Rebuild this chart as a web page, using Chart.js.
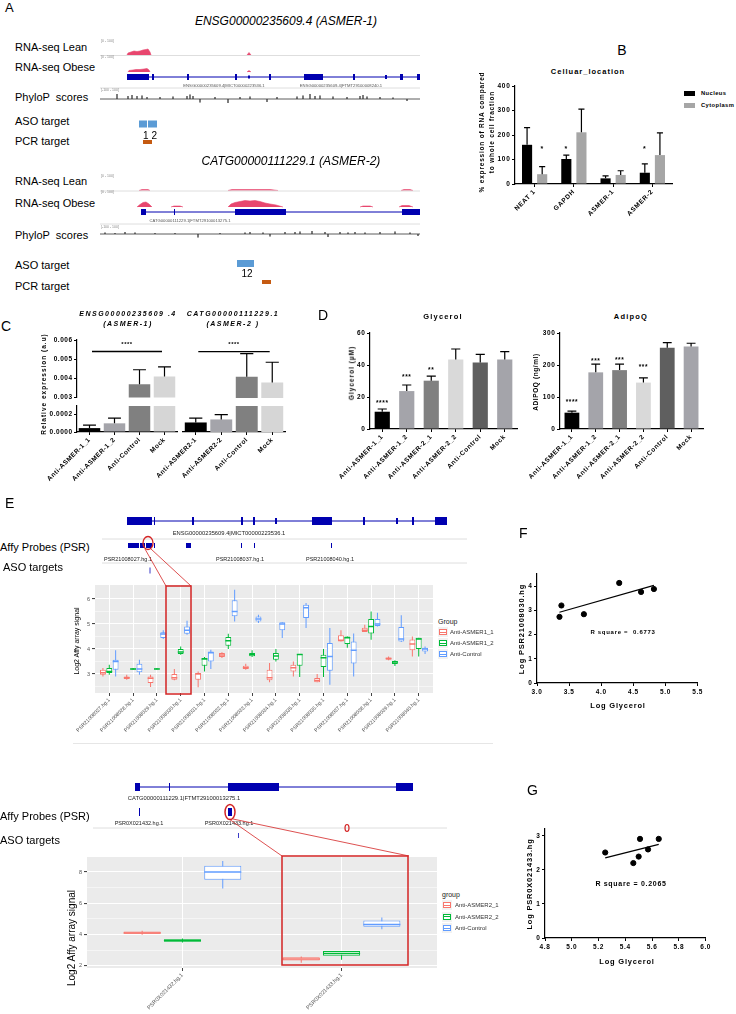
<!DOCTYPE html>
<html><head><meta charset="utf-8"><title>ASMER figure</title>
<script src="https://cdn.jsdelivr.net/npm/chart.js@4.4.1/dist/chart.umd.min.js"></script>
<style>
html,body{margin:0;padding:0;background:#fff;}
#root{position:relative;width:736px;height:1014px;overflow:hidden;font-family:"Liberation Sans",Arial,sans-serif;color:#000;}
.t{position:absolute;white-space:pre;line-height:1;}
canvas{position:absolute;}
svg{position:absolute;left:0;top:0;}
</style></head>
<body><div id="root"></div>
<script>
/* ================= DATA ================= */
// Panel B
const bCategories = ['NEAT 1','GAPDH','ASMER-1','ASMER-2'];
const bNucleus = [160,102,23,46];
const bNucleusErr = [70,16,10,36];
const bCytoplasm = [40,211,37,118];
const bCytoplasmErr = [31,95,17,91];
const bNucleusSig = ['','*','','*'];
const bCytoplasmSig = ['*','','',''];
const bSigLevel = 150;
const bTicks = [0,100,200,300,400];

// Panel C
const cLabels1 = ['Anti-ASMER-1_1','Anti-ASMER-1_2','Anti-Control','Mock'];
const cValues1 = [0.000045,0.0001,0.0037,0.0041];
const cErr1 = [0.000035,0.00006,0.00075,0.0005];
const cLabels2 = ['Anti-ASMER2-1','Anti-ASMER2-2','Anti-Control','Mock'];
const cValues2 = [0.00011,0.000145,0.0041,0.0038];
const cErr2 = [0.00005,0.000055,0.0012,0.00105];
const cUpperTicks = [0.003,0.004,0.005,0.006];
const cLowerTicks = [0,0.0001,0.0002,0.0003];
const cSigLevel = 0.0054;
const cSigText = 0.0059;

// Panel D
const dLabels = ['Anti-ASMER-1_1','Anti-ASMER-1_2','Anti-ASMER-2_1','Anti-ASMER-2_2','Anti-Control','Mock'];
const dGlycerol = [10.8,23.7,30.2,43.5,41.5,43.5];
const dGlycerolErr = [1.7,3.8,2.8,6.5,5.2,4.8];
const dGlycerolSig = ['****','***','**','','',''];
const dGlycerolSigAt = [17.5,33.7,38,null,null,null];
const dGlycerolTicks = [0,20,40,60];
const dAdipoq = [51,177,184,145,254,258];
const dAdipoqErr = [5,26,19,15,16,10];
const dAdipoqSig = ['****','***','***','***','',''];
const dAdipoqSigAt = [90,219,221,199,null,null];
const dAdipoqTicks = [0,100,200,300];

// Panel E (upper) boxplots: [min, q1, median, q3, max]
const eProbes = ['PSR21008027.hg.1','PSR21008028.hg.1','PSR21008029.hg.1','PSR21008030.hg.1','PSR21008031.hg.1','PSR21008032.hg.1','PSR21008033.hg.1','PSR21008034.hg.1','PSR21008035.hg.1','PSR21008036.hg.1','PSR21008037.hg.1','PSR21008038.hg.1','PSR21008039.hg.1','PSR21008040.hg.1'];
const eGroups = ['Anti-ASMER1_1','Anti-ASMER1_2','Anti-Control'];
const eAsmer1_1 = [[2.9,2.97,3.05,3.17,3.24],[2.77,2.8,2.85,2.9,2.97],[2.48,2.64,2.83,2.9,2.97],[2.75,2.77,2.85,3.0,3.2],[2.47,2.77,3.0,3.04,3.1],[3.64,3.68,3.76,3.84,3.87],[3.17,3.2,3.25,3.33,3.41],[2.67,2.75,2.85,3.17,3.44],[2.9,3.1,3.25,3.37,3.5],[2.67,2.67,2.74,2.84,3.0],[4.3,4.3,4.35,4.55,4.75],[4.68,4.68,4.75,4.85,4.97],[3.55,3.57,3.62,3.66,3.7],[3.7,3.95,4.2,4.38,4.5]];
const eAsmer1_2 = [[2.97,3.04,3.1,3.24,3.37],[3.17,3.18,3.2,3.22,3.24],[3.18,3.19,3.2,3.22,3.24],[3.77,3.8,3.88,4.0,4.1],[3.1,3.33,3.6,3.64,3.68],[4.0,4.13,4.33,4.48,4.61],[3.68,3.71,3.78,3.84,3.95],[3.5,3.57,3.72,3.84,4.0],[2.88,3.33,3.78,3.8,3.8],[2.88,3.28,3.65,3.77,4.0],[4.05,4.2,4.45,4.5,4.5],[4.37,4.62,4.9,5.2,5.5],[3.32,3.4,3.48,3.52,3.55],[3.7,4.0,4.4,4.45,4.45]];
const eControl = [[2.9,3.17,3.5,3.57,3.95],[2.97,3.07,3.2,3.41,3.57],[4.4,4.44,4.6,4.67,4.75],[4.57,4.61,4.75,4.9,5.13],[3.2,3.5,3.85,3.9,3.97],[5.1,5.31,5.5,5.95,6.37],[5.04,5.1,5.2,5.3,5.37],[4.44,4.75,5.0,5.07,5.07],[4.84,5.24,5.65,5.77,5.84],[2.57,3.13,3.7,4.24,4.84],[2.9,3.42,3.95,4.3,4.62],[4.9,4.92,5.0,5.2,5.45],[4.28,4.3,4.4,4.88,5.35],[3.8,3.9,4.0,4.05,4.1]];
const eYTicks = [2.5,3,3.5,4,4.5,5,5.5,6];

// Panel E (lower)
const e2Probes = ['PSR0X021432.hg.1','PSR0X021433.hg.1'];
const e2Groups = ['Anti-ASMER2_1','Anti-ASMER2_2','Anti-Control'];
const e2Asmer2_1 = [[4.0,4.05,4.1,4.2,4.25],[2.2,2.35,2.45,2.55,2.6]];
const e2Asmer2_2 = [[3.5,3.55,3.62,3.7,3.75],[2.4,2.65,2.8,2.95,2.95]];
const e2Control = [[6.95,7.5,8.0,8.4,8.7],[4.35,4.5,4.65,4.9,5.1]];
const e2YTicks = [2,3,4,5,6,7,8];

// Panel F / G scatter
const fPoints = [[3.35,2.73],[3.38,3.2],[3.73,2.84],[4.28,4.13],[4.62,3.76],[4.82,3.88]];
const fFit = [[3.35,2.92],[4.82,4.03]];
const fXTicks = [3.0,3.5,4.0,4.5,5.0,5.5];
const fYTicks = [0,1,2,3,4];
const gPoints = [[5.25,2.51],[5.46,2.2],[5.5,2.39],[5.51,2.91],[5.57,2.6],[5.65,2.91]];
const gFit = [[5.25,2.35],[5.65,2.75]];
const gXTicks = [4.8,5.0,5.2,5.4,5.6,5.8,6.0];
const gYTicks = [0,1,2,3];

// Genome tracks (positions in window units, heights in signal units)
const a1LeanPeaks = [[[27,0],[28,2],[31,3],[34,4],[37,3.5],[40,4],[43,5],[46,5.5],[48,6],[50,3],[51,0]],[[147,0],[149,2.5],[151,0]]];
const a1ObesePeaks = [[[28,0],[29,1.5],[33,2],[36,2.5],[40,2.5],[44,3],[47,3.5],[49,2],[50,0]],[[147,0],[149,1.5],[151,0]]];
const a1Exons = [[27,49,6],[52,54,6],[87,89,6],[135,137,6],[148,150,3],[169,171,6],[204,223,6],[253,255,6],[285,287,4],[300,303,6],[317,320,6]];
const a1Span = [27,320];
const a1Phylo = [[17,5],[28,3],[32,4],[37,3],[42,3.5],[47,2],[60,2],[73,2.5],[87,3],[90,4.5],[93,3],[100,-3.5],[115,2],[128,-4],[140,2],[150,2.5],[167,-3],[177,2],[197,2.5],[203,3.5],[210,5],[215,3],[220,3.5],[233,2.5],[247,2],[260,3],[263,4],[267,2.5],[280,2],[293,1.5],[307,-2]];
const a1Aso = [[39,47],[48,57]];
const a1Pcr = [[43,52]];

const a2LeanPeaks = [[[39,0],[42,1],[48,1],[50,0]],[[128,0],[132,1],[170,1],[178,0]],[[301,0],[304,1],[310,1],[313,0]]];
const a2ObesePeaks = [[[37,0],[40,2.5],[43,4.5],[46,5],[49,3],[52,0]],[[71,0],[74,1],[80,1],[83,0]],[[128,0],[131,3],[135,4.5],[140,5.5],[145,6.5],[150,6],[155,6.5],[160,5.5],[165,4],[170,3],[176,2],[183,0]],[[260,0],[263,1],[270,1],[273,0]],[[299,0],[302,1.5],[309,1.5],[313,0]]];
const a2Exons = [[41,46,6],[74,75,6],[135,186,6],[302,320,6]];
const a2Span = [41,320];
const a2Phylo = [[5,1.5],[15,1],[25,2],[35,1.5],[55,1],[75,1],[98,-3.5],[120,1],[145,1.5],[150,2],[163,1.5],[170,-2.5],[185,2],[195,2],[200,2.5],[212,3],[225,2],[228,-3],[240,2],[248,1.5],[255,2],[265,1.5],[280,2],[295,2.5],[310,1.5],[318,-2]];
const a2Aso = [[137,154]];
const a2Pcr = [[162,171]];

const e1Exons = [[27,52,8],[54,55,8],[92,94,8],[141,143,8],[153,155,8],[175,177,6],[212,232,8],[263,265,8],[296,298,6],[312,314,8],[335,347,8]];
const e1Span = [27,347];
const e1Probes = [[28,39],[40,45],[46,52],[54,55],[86,91],[141,142],[154,155],[231,232]];
const e1Aso = [[47,48],[49.5,50.5]];

const e2Exons = [[42,47,8],[76,77,8],[135,186,8],[303,320,8]];
const e2Span = [42,320];
const e2ProbeList = [[46,47],[135,139]];
const e2Aso = [[145,146]];

/* ================= STYLE / HELPERS ================= */
const root = document.getElementById('root');
const FONT = '"Liberation Sans", Arial, sans-serif';
Chart.defaults.font.family = FONT;
Chart.defaults.animation = false;
Chart.defaults.responsive = false;
Chart.defaults.maintainAspectRatio = false;
Chart.defaults.devicePixelRatio = 1;
Chart.defaults.plugins.legend.display = false;
Chart.defaults.plugins.tooltip.enabled = false;
Chart.defaults.events = [];
Chart.defaults.color = '#000';

const spacingPlugin = { id:'spacing',
  beforeUpdate(c,a,o){ c.ctx.letterSpacing = ((o&&o.px)||0)+'px'; },
  beforeDraw(c,a,o){ c.ctx.letterSpacing = ((o&&o.px)||0)+'px'; } };

const errPlugin = { id:'errbars', afterDatasetsDraw(chart,a,o){
  if(!o || !o.err) return;
  const {ctx, chartArea:ca, scales:{y}} = chart;
  ctx.save();
  ctx.beginPath(); ctx.rect(ca.left-2, ca.top-1, ca.right-ca.left+4, ca.bottom-ca.top+1); ctx.clip();
  ctx.strokeStyle = '#000'; ctx.lineWidth = o.lw || 1.2;
  chart.data.datasets.forEach((ds,di)=>{
    const errs = o.err[di]; if(!errs) return;
    chart.getDatasetMeta(di).data.forEach((el,i)=>{
      const v = ds.data[i], e = errs[i];
      const y0 = y.getPixelForValue(v), y1 = y.getPixelForValue(v+e);
      const cw = el.width*(o.cap||0.3);
      ctx.beginPath(); ctx.moveTo(el.x,y0); ctx.lineTo(el.x,y1);
      ctx.moveTo(el.x-cw,y1); ctx.lineTo(el.x+cw,y1); ctx.stroke();
    });
  });
  ctx.restore();
  if(o.sig){
    ctx.save(); ctx.fillStyle='#000'; const fs = o.sigSize||7;
    ctx.font = 'bold '+fs+'px '+FONT; ctx.textAlign='center'; ctx.textBaseline='alphabetic';
    chart.data.datasets.forEach((ds,di)=>{
      const s = o.sig[di]; if(!s) return;
      chart.getDatasetMeta(di).data.forEach((el,i)=>{
        if(!s[i]) return;
        const yy = y.getPixelForValue(o.sigAt[di][i]);
        ctx.fillText(s[i], el.x, yy + fs*0.6);
      });
    });
    ctx.restore();
  }
}};

const sigLinePlugin = { id:'sigline', afterDatasetsDraw(c,a,o){
  if(!o || o.value==null) return;
  const {ctx, scales:{x,y}} = c;
  const yy = y.getPixelForValue(o.value), x0 = x.getPixelForValue(o.from), x1 = x.getPixelForValue(o.to);
  ctx.save(); ctx.strokeStyle='#000'; ctx.lineWidth=1.4;
  ctx.beginPath(); ctx.moveTo(x0,yy); ctx.lineTo(x1,yy); ctx.stroke();
  ctx.fillStyle='#000'; ctx.font='bold 6px '+FONT; ctx.textAlign='center'; ctx.textBaseline='alphabetic';
  ctx.fillText(o.label,(x0+x1)/2, y.getPixelForValue(o.labelValue)+4);
  ctx.restore();
}};

const bgPlugin = { id:'ggbg', beforeDraw(c,a,o){
  if(!o || !o.color) return;
  const {ctx, chartArea:ca} = c;
  ctx.save(); ctx.fillStyle=o.color; ctx.fillRect(ca.left,ca.top,ca.right-ca.left,ca.bottom-ca.top); ctx.restore();
}};

const medPlugin = { id:'medians', afterDatasetsDraw(c,a,o){
  if(!o || !o.sets) return;
  const {ctx, scales:{y}} = c;
  ctx.save(); ctx.lineWidth = o.lw || 1.5;
  o.sets.forEach(s=>{
    ctx.strokeStyle = s.color;
    c.getDatasetMeta(s.ds).data.forEach((el,i)=>{
      const yy = y.getPixelForValue(s.values[i]);
      ctx.beginPath(); ctx.moveTo(el.x-el.width/2, yy); ctx.lineTo(el.x+el.width/2, yy); ctx.stroke();
    });
  });
  ctx.restore();
}};
Chart.register(spacingPlugin, errPlugin, sigLinePlugin, bgPlugin, medPlugin);

function mkCanvas(l,t,w,h){
  const c=document.createElement('canvas'); c.width=w; c.height=h;
  c.style.left=l+'px'; c.style.top=t+'px'; c.style.width=w+'px'; c.style.height=h+'px';
  root.appendChild(c); return c;
}
function txt(s,x,y,o){
  o=o||{}; const d=document.createElement('div'); d.className='t'; d.textContent=s;
  d.style.left=x+'px'; d.style.top=y+'px'; d.style.fontSize=(o.size||10)+'px';
  if(o.bold) d.style.fontWeight='bold';
  if(o.italic) d.style.fontStyle='italic';
  if(o.ls) d.style.letterSpacing=o.ls+'px';
  if(o.color) d.style.color=o.color;
  const a=o.anchor||'l';
  let tr = a==='c'?'translate(-50%,-50%)':(a==='r'?'translate(-100%,-50%)':'translate(0,-50%)');
  if(o.rot) tr='translate(-50%,-50%) rotate(-90deg)';
  d.style.transform=tr; root.appendChild(d); return d;
}
function box(l,t,w,h,css){ const d=document.createElement('div'); d.style.position='absolute'; d.style.left=l+'px'; d.style.top=t+'px'; d.style.width=w+'px'; d.style.height=h+'px'; d.style.boxSizing='border-box'; Object.assign(d.style,css||{}); root.appendChild(d); return d; }

// Prism-style axes
function prismY(min,max,ticks,width,fmt,show){
  if(show===undefined) show=true;
  return { type:'linear', min, max,
    afterBuildTicks: s=>{ s.ticks = ticks.map(v=>({value:v})); },
    afterFit: s=>{ s.width = width; },
    border:{display:show,color:'#000',width:1.2},
    grid:{display:show, drawOnChartArea:false, drawTicks:true, tickLength:3, color:'#000', lineWidth:1},
    ticks:{display:show, color:'#000', font:{size:6.5, weight:'bold'}, padding:1.5, callback:v=>fmt(v)} };
}
function prismX(height){
  return { type:'category', offset:true, afterFit: s=>{ s.height = height; },
    border:{display:true,color:'#000',width:1.2},
    grid:{display:true, offset:false, drawOnChartArea:false, drawTicks:true, tickLength:3, color:'#000'},
    ticks:{color:'#000', autoSkip:false, maxRotation:45, minRotation:45, font:{size:6.5, weight:'bold'}, padding:1} };
}

/* ================= PANEL B ================= */
new Chart(mkCanvas(470,78,210,142), { type:'bar',
  data:{ labels:bCategories, datasets:[
    {label:'Nucleus', data:bNucleus, backgroundColor:'#000', barPercentage:0.67, categoryPercentage:0.77},
    {label:'Cytoplasm', data:bCytoplasm, backgroundColor:'#a6a6a6', barPercentage:0.67, categoryPercentage:0.77} ]},
  options:{ layout:{padding:{top:8,right:8,left:0,bottom:0}},
    scales:{ x:prismX(36), y:prismY(0,400,bTicks,45,v=>String(v)) },
    plugins:{ spacing:{px:0.7}, errbars:{err:[bNucleusErr,bCytoplasmErr], cap:0.3,
      sig:[bNucleusSig,bCytoplasmSig], sigAt:[bNucleusSig.map(()=>bSigLevel), bCytoplasmSig.map(()=>bSigLevel)], sigSize:7}}}
});

/* ================= PANEL C ================= */
const cColors = ['#000000','#a4a4aa','#808080','#d6d6d6'];
function cChart(l,t,w,h,labels,values,errs,yMin,yMax,ticks,fmt,yW,showY,lower,pad,sig){
  const opts = { layout:{padding:pad},
    scales:{
      x: lower ? prismX(50) : {type:'category', display:false, offset:true},
      y: prismY(yMin,yMax,ticks,yW,fmt,showY) },
    plugins:{ spacing:{px:0.5}, errbars:{err:[errs], cap:0.3} } };
  if(sig) opts.plugins.sigline = sig;
  new Chart(mkCanvas(l,t,w,h), { type:'bar',
    data:{ labels, datasets:[{ data:values, backgroundColor:cColors, barPercentage:0.86, categoryPercentage:1, clip:0 }]},
    options: opts });
}
cChart(20,330,160,73,cLabels1,cValues1,cErr1,0.003,0.006,cUpperTicks,v=>v.toFixed(3),57,true,false,{top:10,right:3,left:0,bottom:5},
  {value:cSigLevel, from:0.1, to:2.9, label:'****', labelValue:cSigText});
cChart(20,400,160,82,cLabels1,cValues1,cErr1,0,0.0003,cLowerTicks,v=>v.toFixed(4),57,true,true,{top:6,right:3,left:0,bottom:0});
cChart(140,330,148,73,cLabels2,cValues2,cErr2,0.003,0.006,cUpperTicks,v=>v.toFixed(3),43,false,false,{top:10,right:3,left:0,bottom:5},
  {value:cSigLevel, from:0.1, to:2.9, label:'****', labelValue:cSigText});
cChart(140,400,148,82,cLabels2,cValues2,cErr2,0,0.0003,cLowerTicks,v=>v.toFixed(4),43,false,true,{top:6,right:3,left:0,bottom:0});

/* ================= PANEL D ================= */
const dColors = ['#000000','#a4a4aa','#808080','#d9d9d9','#5f5f5f','#a4a4aa'];
function dChart(l,w,values,errs,sig,sigAt,max,ticks){
  new Chart(mkCanvas(l,323,w,161), { type:'bar',
    data:{ labels:dLabels, datasets:[{ data:values, backgroundColor:dColors, barPercentage:0.62, categoryPercentage:1 }]},
    options:{ layout:{padding:{top:10,right:3,left:0,bottom:0}},
      scales:{ x:prismX(55), y:prismY(0,max,ticks,40,v=>String(v)) },
      plugins:{ spacing:{px:0.6}, errbars:{err:[errs], cap:0.3, sig:[sig], sigAt:[sigAt], sigSize:6.5} } } });
}
dChart(330,190,dGlycerol,dGlycerolErr,dGlycerolSig,dGlycerolSigAt,60,dGlycerolTicks);
dChart(520,186,dAdipoq,dAdipoqErr,dAdipoqSig,dAdipoqSigAt,300,dAdipoqTicks);

/* ================= PANEL E boxplots ================= */
const ggColors = ['#F8766D','#00BA38','#619CFF'];
function boxChart(l,t,w,h,cats,groups,yMin,yMax,yTicks,isMajor,yW,xH,labelSize,catPct){
  const datasets = [];
  groups.forEach((g,gi)=>datasets.push({ type:'bar', stack:'s'+gi, order:0,
    data:g.map((b,i)=>({x:i+1, y:[b[1],b[3]]})), backgroundColor:'#ffffff', borderColor:ggColors[gi],
    borderWidth:1, borderSkipped:false, categoryPercentage:catPct, barPercentage:0.92, clip:0 }));
  groups.forEach((g,gi)=>datasets.push({ type:'bar', stack:'s'+gi, order:1,
    data:g.map((b,i)=>({x:i+1, y:[b[0],b[4]]})), backgroundColor:ggColors[gi], maxBarThickness:1,
    categoryPercentage:catPct, barPercentage:0.92, clip:0 }));
  new Chart(mkCanvas(l,t,w,h), { type:'bar', data:{datasets},
    options:{ layout:{padding:{top:7,right:3,left:0,bottom:0}},
      scales:{
        x:{ type:'linear', min:0.4, max:cats.length+0.6, offset:false,
          afterBuildTicks:s=>{ s.ticks = cats.map((c,i)=>({value:i+1})); },
          afterFit:s=>{ s.height = xH; },
          border:{display:false},
          grid:{display:true, offset:false, color:'#ffffff', lineWidth:1, drawTicks:true, tickLength:3, tickColor:'#444'},
          ticks:{ autoSkip:false, maxRotation:45, minRotation:45, color:'#555', font:{size:labelSize}, padding:1,
            callback:v=>cats[Math.round(v)-1] } },
        y:{ type:'linear', min:yMin, max:yMax, stacked:false,
          afterBuildTicks:s=>{ s.ticks = yTicks.map(v=>({value:v})); },
          afterFit:s=>{ s.width = yW; },
          border:{display:false},
          grid:{display:true, color:'#ffffff', lineWidth:ctx=>isMajor(ctx.tick.value)?1.1:0.5,
            drawTicks:true, tickLength:3, tickColor:ctx=>isMajor(ctx.tick.value)?'#444':'rgba(0,0,0,0)'},
          ticks:{ color:'#555', font:{size:5.5}, padding:2, callback:v=>isMajor(v)?String(v):'' } } },
      plugins:{ ggbg:{color:'#EBEBEB'},
        medians:{ lw:1.5, sets:groups.map((g,gi)=>({ds:gi, color:ggColors[gi], values:g.map(b=>b[2])})) } } } });
}
boxChart(40,578,396,160,eProbes,[eAsmer1_1,eAsmer1_2,eControl],2.24,6.56,eYTicks,v=>Number.isInteger(v),55,45,5.2,0.8);
boxChart(40,850,400,164,e2Probes,[e2Asmer2_1,e2Asmer2_2,e2Control],1.87,8.96,e2YTicks,v=>v%2===0,47,46,5.5,0.76);

/* ================= PANEL F / G ================= */
function scatterChart(l,t,w,h,pts,fit,xMin,xMax,xTicks,yMin,yMax,yTicks,yW){
  new Chart(mkCanvas(l,t,w,h), { type:'scatter',
    data:{ datasets:[
      { data:pts.map(p=>({x:p[0],y:p[1]})), backgroundColor:'#000', borderColor:'#000', pointRadius:2.6 },
      { data:fit.map(p=>({x:p[0],y:p[1]})), showLine:true, borderColor:'#000', borderWidth:1.2, pointRadius:0 } ]},
    options:{ layout:{padding:{top:9,right:5,left:0,bottom:0}},
      scales:{
        x:{ type:'linear', min:xMin, max:xMax,
          afterBuildTicks:s=>{ s.ticks = xTicks.map(v=>({value:v})); },
          afterFit:s=>{ s.height = 32; },
          border:{display:true,color:'#000',width:1.2},
          grid:{display:true, drawOnChartArea:false, drawTicks:true, tickLength:3, color:'#000'},
          ticks:{ color:'#000', font:{size:6.5, weight:'bold'}, padding:2, maxRotation:0, callback:v=>v.toFixed(1) } },
        y: prismY(yMin,yMax,yTicks,yW,v=>String(v)) },
      plugins:{ spacing:{px:0.6} } } });
}
scatterChart(490,565,215,150,fPoints,fFit,3.0,5.5,fXTicks,0,4.5,fYTicks,47);
scatterChart(495,820,218,150,gPoints,gFit,4.8,6.0,gXTicks,0,3.2,gYTicks,50);

/* ================= GENOME TRACKS ================= */
const GENE='#0000b0', COV='#e8466e', ASO='#5b9bd5', PCR='#c55a11', SEP='#d6d6d6';
function segDs(list,row,color,thick){
  const data=[]; list.forEach(s=>{ data.push({x:s[0],y:row},{x:s[1],y:row},{x:s[1],y:null}); });
  return {type:'line', data, borderColor:color, borderWidth:thick, borderCapStyle:'butt', pointRadius:0, spanGaps:false, fill:false};
}
function exonDs(list,row,color){ return list.map(e=>segDs([[e[0],e[1]]],row,color,e[2])); }
function covDs(peaks,base,color){
  const data=[]; peaks.forEach(p=>{ p.forEach(q=>data.push({x:q[0], y:base-q[1]})); data.push({x:p[p.length-1][0]+0.5, y:null}); });
  return {type:'line', data, borderColor:color, borderWidth:0.6, backgroundColor:color, fill:{value:base}, pointRadius:0, spanGaps:false};
}
function phyloDs(spikes,base,x0,x1){
  const data=[{x:x0,y:base}];
  spikes.forEach(s=>{ data.push({x:s[0],y:base},{x:s[0],y:base-s[1]},{x:s[0],y:base}); });
  data.push({x:x1,y:base});
  return {type:'line', data, borderColor:'#333', borderWidth:0.8, pointRadius:0, fill:false};
}
function trackChart(l,t,w,h,datasets){
  new Chart(mkCanvas(l,t,w,h), { type:'line', data:{datasets},
    options:{ layout:{padding:0}, scales:{
      x:{type:'linear', min:0, max:w, display:false},
      y:{type:'linear', min:0, max:h, reverse:true, display:false} } } });
}
// A1
trackChart(100,40,320,108,[
  segDs([[0,320]],15.5,SEP,0.8), segDs([[0,320]],48,SEP,0.8),
  covDs(a1LeanPeaks,15,COV), covDs(a1ObesePeaks,32,COV),
  segDs([a1Span],37,GENE,1), ...exonDs(a1Exons,37,GENE),
  phyloDs(a1Phylo,59,0,320),
  segDs(a1Aso,84,ASO,7), segDs(a1Pcr,102,PCR,4) ]);
// A2
trackChart(100,172,320,118,[
  segDs([[0,320]],19,SEP,0.8), segDs([[0,320]],52,SEP,0.8),
  covDs(a2LeanPeaks,18.5,COV), covDs(a2ObesePeaks,35,COV),
  segDs([a2Span],40,GENE,1), ...exonDs(a2Exons,40,GENE),
  phyloDs(a2Phylo,62,0,320),
  segDs(a2Aso,91.5,ASO,7), segDs(a2Pcr,110,PCR,4) ]);
// E1
trackChart(100,510,367,68,[
  segDs([e1Span],11,GENE,1), ...exonDs(e1Exons,11,GENE),
  segDs([[2,367]],29,SEP,0.8), segDs(e1Probes,35.5,GENE,5),
  segDs([[2,367]],53,SEP,0.8), segDs(e1Aso,60.5,'#3b3bc8',6) ]);
// E2
trackChart(93,780,354,62,[
  segDs([e2Span],7,GENE,1), ...exonDs(e2Exons,7,GENE),
  segDs(e2ProbeList,32,GENE,8),
  segDs([[0,354]],48,SEP,0.8), segDs(e2Aso,55.5,'#3b3bc8',5) ]);

/* ================= TEXT ================= */
// Panel A
txt('A',5,7,{size:13});
txt('ENSG00000235609.4 (ASMER-1)',286,21,{size:12,italic:true,anchor:'c'});
[['RNA-seq Lean',47],['RNA-seq Obese',67],['PhyloP  scores',97],['ASO target',121],['PCR target',141]].forEach(r=>txt(r[0],15,r[1],{size:11}));
txt('[0 - 100]',101,42,{size:3.5,color:'#888'}); txt('[0 - 100]',101,58,{size:3.5,color:'#888'}); txt('[-100 - 100]',101,91,{size:3.5,color:'#888'});
txt('ENSG00000235609.4|MICT00000223536.1',224,86,{size:4.2,color:'#555',anchor:'c'});
txt('ENSG00000235609.4|FTMT29100008240.1',341,86,{size:4.2,color:'#555',anchor:'c'});
txt('1 2',150,136,{size:10,anchor:'c'});
txt('CATG00000111229.1 (ASMER-2)',291,161,{size:12,italic:true,anchor:'c'});
[['RNA-seq Lean',181],['RNA-seq Obese',203],['PhyloP  scores',235],['ASO target',265],['PCR target',286]].forEach(r=>txt(r[0],15,r[1],{size:11}));
txt('[0 - 100]',101,177,{size:3.5,color:'#888'}); txt('[0 - 100]',101,193,{size:3.5,color:'#888'}); txt('[-100 - 100]',101,228,{size:3.5,color:'#888'});
txt('CATG00000111229.1|FTMT29100013275.1',190,221,{size:4.2,color:'#555',anchor:'c'});
txt('12',247,274,{size:10,anchor:'c'});
// Panel B
txt('B',622,50,{size:14,anchor:'c'});
txt('Celluar_location',588,72,{size:7.5,bold:true,ls:1,anchor:'c'});
txt('% expression of RNA compared',482,132,{size:6.5,bold:true,ls:0.8,rot:true});
txt('to whole cell fraction',492,132,{size:6.5,bold:true,ls:0.8,rot:true});
box(684,91,11,5,{background:'#000'}); box(684,103,11,5,{background:'#a6a6a6'});
txt('Nucleus',701,93.5,{size:5.8,bold:true,ls:0.4}); txt('Cytoplasm',701,105.5,{size:5.8,bold:true,ls:0.4});
// Panel C
txt('C',1,326,{size:14});
txt('ENSG00000235609 .4',128,313,{size:7,bold:true,italic:true,ls:1.5,anchor:'c'});
txt('(ASMER-1)',128,323,{size:7,bold:true,italic:true,ls:1.5,anchor:'c'});
txt('CATG00000111229.1',233,313,{size:7,bold:true,italic:true,ls:1.5,anchor:'c'});
txt('(ASMER-2 )',233,323,{size:7,bold:true,italic:true,ls:1.5,anchor:'c'});
txt('Relative expression (a.u)',44,384,{size:6.5,bold:true,ls:1,rot:true});
// Panel D
txt('D',318,315,{size:14});
txt('Glycerol',443,317,{size:7.5,bold:true,ls:1.2,anchor:'c'});
txt('AdipoQ',631,317,{size:7.5,bold:true,ls:1.2,anchor:'c'});
txt('Glycerol (µM)',352,373,{size:6.5,bold:true,ls:1,rot:true});
txt('ADIPOQ (ng/ml)',536,382,{size:6.5,bold:true,ls:0.6,rot:true});
// Panel E
txt('E',5,503,{size:14});
txt('Affy Probes (PSR)',0,547,{size:11}); txt('ASO targets',3,567,{size:11});
txt('ENSG00000235609.4|MICT00000223536.1',229,534,{size:5.8,color:'#222',anchor:'c'});
txt('PSR21008027.hg.1',128,560,{size:5.5,color:'#222',anchor:'c'});
txt('PSR21008037.hg.1',240,560,{size:5.5,color:'#222',anchor:'c'});
txt('PSR21008040.hg.1',330,560,{size:5.5,color:'#222',anchor:'c'});
txt('Log2 Affy array signal',76,641,{size:7,rot:true});
function legendKey(x,y,color){
  box(x,y-5,10,10,{background:'#f2f2f2'});
  box(x+1,y-3,8,6,{border:'1px solid '+color,background:'#fff'});
  box(x+1,y-0.5,8,1.3,{background:color});
}
txt('Group',438,621,{size:7,color:'#222'});
eGroups.forEach((g,i)=>{ legendKey(438,632+i*11,ggColors[i]); txt(g,450,632+i*11,{size:6,color:'#333'}); });
box(73,743,420,1,{background:'#e6e6e6'});
txt('CATG00000111229.1|FTMT29100013275.1',184,799,{size:5.8,color:'#222',anchor:'c'});
txt('Affy Probes (PSR)',0,816,{size:11}); txt('ASO targets',0,840,{size:11});
txt('PSR0X021432.hg.1',139,824,{size:5.5,color:'#222',anchor:'c'});
txt('PSR0X021433.hg.1',229,824,{size:5.5,color:'#222',anchor:'c'});
txt('Log2 Affy array signal',72,938,{size:10,rot:true});
txt('group',442,894,{size:7,color:'#222'});
e2Groups.forEach((g,i)=>{ legendKey(442,905+i*11.5,ggColors[i]); txt(g,455,905+i*11.5,{size:6,color:'#333'}); });
// Panel F / G
txt('F',519,533,{size:14});
txt('Log PSR21008030.hg',522,629,{size:7.5,bold:true,ls:0.8,rot:true});
txt('Log Glycerol',618,706,{size:7.5,bold:true,ls:0.8,anchor:'c'});
txt('R square =  0.6773',623,632,{size:6,bold:true,ls:0.7,anchor:'c'});
txt('G',527,790,{size:14});
txt('Log PSR0X021433.hg',530,884,{size:7.5,bold:true,ls:0.8,rot:true});
txt('Log Glycerol',627,962,{size:7.5,bold:true,ls:0.8,anchor:'c'});
txt('R square = 0.2065',631,883,{size:7,bold:true,ls:0.7,anchor:'c'});

// Highlight annotations
root.insertAdjacentHTML('beforeend',
 '<svg width="736" height="1014" style="pointer-events:none">'+
 '<g fill="none" stroke="#d42525">'+
 '<ellipse cx="148" cy="543" rx="5" ry="6.5" stroke-width="1.3"/>'+
 '<line x1="145" y1="549" x2="166" y2="586" stroke-width="0.8"/>'+
 '<line x1="151" y1="549" x2="191" y2="586" stroke-width="0.8"/>'+
 '<rect x="166" y="586" width="25" height="108" stroke-width="1.5"/>'+
 '<ellipse cx="230" cy="812" rx="5" ry="7.5" stroke-width="1.5"/>'+
 '<line x1="229" y1="819" x2="282" y2="856" stroke-width="0.8"/>'+
 '<line x1="233" y1="819" x2="409" y2="856" stroke-width="0.8"/>'+
 '<rect x="282" y="856" width="126" height="109" stroke-width="1.5"/>'+
 '<ellipse cx="347" cy="828" rx="2" ry="3.5" stroke-width="1.2"/>'+
 '</g></svg>');
</script>
</body></html>
